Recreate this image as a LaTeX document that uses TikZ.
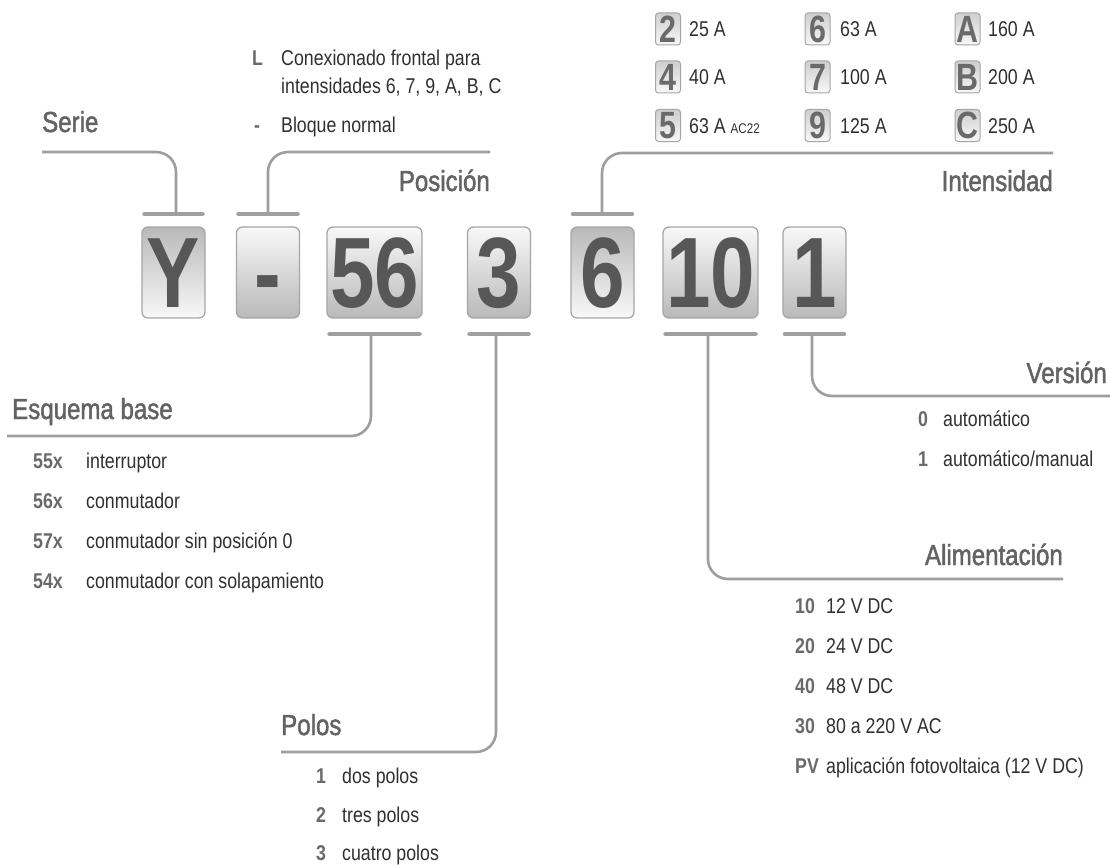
\documentclass[tikz,border=0pt]{standalone}
\usepackage{fontspec}
\setmainfont[FakeStretch=0.83]{Liberation Sans}
\newfontfamily\digfont[FakeStretch=0.8]{Liberation Sans}
\newfontfamily\titlefont[FakeStretch=0.83,FakeBold=1.6]{Liberation Sans}
\definecolor{linegray}{HTML}{9E9E9E}
\definecolor{bargray}{HTML}{A0A0A0}
\definecolor{boxborder}{HTML}{A6A6A6}
\definecolor{boxlight}{HTML}{F8F8F8}
\definecolor{boxdark}{HTML}{B9B9B9}
\definecolor{diggray}{HTML}{575757}
\definecolor{titlegray}{HTML}{636363}
\definecolor{codegray}{HTML}{6A6A6A}
\definecolor{descgray}{HTML}{303030}
\tikzset{
  bigbox/.style={draw=boxborder, line width=1.3pt, rounded corners=6pt,
    top color=boxlight, bottom color=boxdark, minimum width=63pt, minimum height=91pt,
    inner sep=0pt, text height=69pt, text depth=0pt, text=diggray,
    font=\digfont\bfseries\fontsize{100}{100}\selectfont},
  bigboxinv/.style={bigbox, top color=boxdark, bottom color=boxlight},
  smallbox/.style={draw=boxborder, line width=1pt, rounded corners=3pt,
    top color=boxdark!70, bottom color=boxlight, minimum width=25pt, minimum height=32pt,
    inner sep=0pt, text height=26.7pt, text depth=0pt, text=codegray,
    font=\digfont\bfseries\fontsize{38}{38}\selectfont},
  bar/.style={draw=bargray, line width=4.5pt, line cap=round},
  conn/.style={draw=linegray, line width=2.6pt, rounded corners=20pt},
  title/.style={inner sep=0pt, text=titlegray, font=\titlefont\fontsize{29}{29}\selectfont},
  code/.style={anchor=base west, inner sep=0pt, text=codegray, font=\fontsize{21.4}{21.4}\selectfont\bfseries},
  desc/.style={anchor=base west, inner sep=0pt, text=descgray, font=\fontsize{21.4}{21.4}\selectfont},
}
\begin{document}
\begin{tikzpicture}[x=1pt,y=-1pt]
\useasboundingbox[fill=white] (0,0) rectangle (1110,864);

% main code boxes
\node[bigboxinv] (bY) at (173.5,272.5) {Y};
\node[bigbox] (bDash) at (268,272.5) {-};
\node[bigbox, minimum width=95pt] (b56) at (374.5,272.5) {56};
\node[bigbox] (b3) at (499,272.5) {3};
\node[bigboxinv] (b6) at (602.5,272.5) {6};
\node[bigbox, minimum width=95pt] (b10) at (710.5,272.5) {10};
\node[bigbox] (b1) at (814.5,272.5) {1};

% bars
\draw[bar] (144.5,214) -- (202.5,214);
\draw[bar] (238.5,214) -- (297.5,214);
\draw[bar] (573,214) -- (632,214);
\draw[bar] (329.5,334) -- (419.5,334);
\draw[bar] (469.5,334) -- (528.5,334);
\draw[bar] (665.5,334) -- (755.5,334);
\draw[bar] (785,334) -- (844,334);

% stem coordinates
\coordinate (sY) at (176,214);
\coordinate (sDash) at (268,214);
\coordinate (s6) at (602,214);
\coordinate (s56) at (371,334);
\coordinate (s3) at (496,334);
\coordinate (s10) at (708,334);
\coordinate (s1) at (812,334);
% line ends
\coordinate (eSerie) at (42,152);
\coordinate (ePos) at (490,152);
\coordinate (eInt) at (1053,153);
\coordinate (eEsq) at (7,436);
\coordinate (ePol) at (281,752);
\coordinate (eAli) at (1063,579);
\coordinate (eVer) at (1110,396);

\draw[conn] (sY) |- (eSerie);
\draw[conn] (sDash) |- (ePos);
\draw[conn] (s6) |- (eInt);
\draw[conn] (s56) |- (eEsq);
\draw[conn] (s3) |- (ePol);
\draw[conn] (s10) |- (eAli);
\draw[conn] (s1) |- (eVer);

% titles
\node[title, anchor=base west] (tSerie) at (42,132) {Serie};
\node[title, anchor=base east] (tPos) at (490,191) {Posición};
\node[title, anchor=base east] (tInt) at (1053,191) {Intensidad};
\node[title, anchor=base west] (tEsq) at (12,419) {Esquema base};
\node[title, anchor=base west] (tPol) at (281,735) {Polos};
\node[title, anchor=base east] (tAli) at (1063,565) {Alimentación};
\node[title, anchor=base east] (tVer) at (1107,383) {Versión};

% Posición items
\node[code] (pL) at (252,66) {L};
\node[desc] (pLd1) at (281,66) {Conexionado frontal para};
\node[desc] (pLd2) at (281,94) {intensidades 6, 7, 9, A, B, C};
\node[code] (pN) at (254,132) {-};
\node[desc] (pNd) at (281,132) {Bloque normal};

% Intensidad table
\node[smallbox] (i2) at (668,29) {2};
\node[desc] (i2d) at (689,37) {25 A};
\node[smallbox] (i4) at (668,77) {4};
\node[desc] (i4d) at (689,85) {40 A};
\node[smallbox] (i5) at (668,125.5) {5};
\node[desc] (i5d) at (689,133) {63 A \fontsize{14}{14}\selectfont AC22};
\node[smallbox] (i6) at (817.5,29) {6};
\node[desc] (i6d) at (840,37) {63 A};
\node[smallbox] (i7) at (817.5,77) {7};
\node[desc] (i7d) at (840,85) {100 A};
\node[smallbox] (i9) at (817.5,125.5) {9};
\node[desc] (i9d) at (840,133) {125 A};
\node[smallbox] (iA) at (967.5,29) {A};
\node[desc] (iAd) at (988,37) {160 A};
\node[smallbox] (iB) at (967.5,77) {B};
\node[desc] (iBd) at (988,85) {200 A};
\node[smallbox] (iC) at (967.5,125.5) {C};
\node[desc] (iCd) at (988,133) {250 A};

% Esquema base items
\node[code] (e55) at (33,468) {55x};
\node[desc] (e55d) at (86,468) {interruptor};
\node[code] (e56) at (33,508) {56x};
\node[desc] (e56d) at (86,508) {conmutador};
\node[code] (e57) at (33,548) {57x};
\node[desc] (e57d) at (86,548) {conmutador sin posición 0};
\node[code] (e54) at (33,588) {54x};
\node[desc] (e54d) at (86,588) {conmutador con solapamiento};

% Polos items
\node[code] (p1) at (316,783) {1};
\node[desc] (p1d) at (342,783) {dos polos};
\node[code] (p2) at (316,822) {2};
\node[desc] (p2d) at (342,822) {tres polos};
\node[code] (p3) at (316,860) {3};
\node[desc] (p3d) at (342,860) {cuatro polos};

% Alimentación items
\node[code] (a10) at (795,613) {10};
\node[desc] (a10d) at (826,613) {12 V DC};
\node[code] (a20) at (795,653) {20};
\node[desc] (a20d) at (826,653) {24 V DC};
\node[code] (a40) at (795,693) {40};
\node[desc] (a40d) at (826,693) {48 V DC};
\node[code] (a30) at (795,733) {30};
\node[desc] (a30d) at (826,733) {80 a 220 V AC};
\node[code] (aPV) at (795,773) {PV};
\node[desc] (aPVd) at (826,773) {aplicación fotovoltaica (12 V DC)};

% Versión items
\node[code] (v0) at (918,426) {0};
\node[desc] (v0d) at (943,426) {automático};
\node[code] (v1) at (918,466) {1};
\node[desc] (v1d) at (943,466) {automático/manual};
\end{tikzpicture}
\end{document}
